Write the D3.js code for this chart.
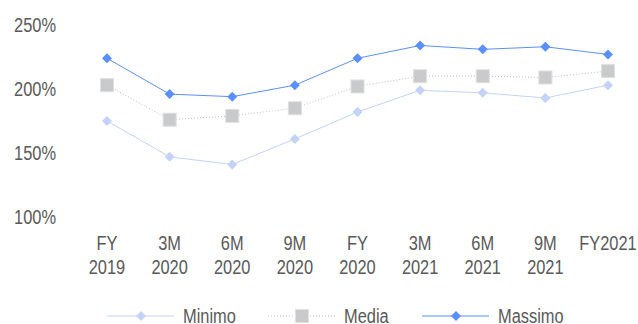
<!DOCTYPE html>
<html>
<head>
<meta charset="utf-8">
<script src="https://cdn.jsdelivr.net/npm/d3@7"></script>
<style>
  body { margin: 0; background: #fff; }
  text { font-family: "Liberation Sans Narrow", "Arial Narrow", "Liberation Sans", Arial, sans-serif; fill: #595959; }
</style>
</head>
<body>
<div id="chart"></div>
<script>
// periodi (due righe di etichetta)
const periodi = ["FY 2019", "3M 2020", "6M 2020", "9M 2020", "FY 2020", "3M 2021", "6M 2021", "9M 2021", "FY2021"];
const minimo  = [175, 147, 141, 161, 182, 199, 197, 193, 203];
const media   = [203, 176, 179, 185, 202, 210, 210, 209, 214];
const massimo = [224, 196, 194, 203, 224, 234, 231, 233, 227];
const yTicks  = [100, 150, 200, 250];

const width = 638, height = 324;

const svg = d3.select("#chart").append("svg")
  .attr("width", width)
  .attr("height", height);

const x = d3.scalePoint()
  .domain(periodi)
  .range([107, 608]);

const y = d3.scaleLinear()
  .domain([100, 250])
  .range([217, 25]);

// stringe il testo come un Arial Narrow
function narrow(sel) {
  sel.each(function() {
    const w = this.getComputedTextLength();
    d3.select(this)
      .attr("textLength", w * 0.82)
      .attr("lengthAdjust", "spacingAndGlyphs");
  });
}

// etichette asse Y
svg.append("g")
  .selectAll("text")
  .data(yTicks)
  .enter().append("text")
    .attr("x", 56)
    .attr("y", d => y(d))
    .attr("dy", "0.35em")
    .attr("text-anchor", "end")
    .style("font-size", "20px")
    .text(d => d + "%")
    .call(narrow);

// etichette asse X
svg.append("g")
  .selectAll("g")
  .data(periodi)
  .enter().append("g")
  .each(function(d) {
    const g = d3.select(this);
    d.split(" ").forEach((p, i) => {
      g.append("text")
        .attr("x", x(d))
        .attr("y", 243 + i * 24)
        .attr("dy", "0.35em")
        .attr("text-anchor", "middle")
        .style("font-size", "20px")
        .text(p)
        .call(narrow);
    });
  });

const series = [
  { name: "Minimo",  values: minimo,  color: "#c3d3f6", dash: null,  shape: "diamond", size: 10, mcolor: "#c3d3f6" },
  { name: "Media",   values: media,   color: "#bfbfbf", dash: "1,2", shape: "square",  size: 13, mcolor: "#c8cacb" },
  { name: "Massimo", values: massimo, color: "#5b8ff9", dash: null,  shape: "diamond", size: 10, mcolor: "#5b8ff9" }
];

const line = d3.line()
  .x((d, i) => x(periodi[i]))
  .y(d => y(d));

function marker(g, s, cx, cy) {
  const h = s.size / 2;
  if (s.shape === "square") {
    g.append("rect")
      .attr("x", cx - h).attr("y", cy - h)
      .attr("width", s.size).attr("height", s.size)
      .attr("fill", s.mcolor)
      .attr("stroke", "#dfe0e0")
      .attr("stroke-width", 1);
  } else {
    g.append("path")
      .attr("d", `M${cx},${cy - h}L${cx + h},${cy}L${cx},${cy + h}L${cx - h},${cy}Z`)
      .attr("fill", s.mcolor);
  }
}

series.forEach(s => {
  const g = svg.append("g");
  g.append("path")
    .datum(s.values)
    .attr("fill", "none")
    .attr("stroke", s.color)
    .attr("stroke-width", 1)
    .attr("stroke-dasharray", s.dash)
    .attr("d", line);
  s.values.forEach((v, i) => marker(g, s, x(periodi[i]), y(v)));
});

// legenda
const legX = [107, 268, 422];
const legY = 316;
series.forEach((s, i) => {
  const g = svg.append("g");
  g.append("line")
    .attr("x1", legX[i]).attr("x2", legX[i] + 67)
    .attr("y1", legY).attr("y2", legY)
    .attr("stroke", s.color)
    .attr("stroke-width", 1)
    .attr("stroke-dasharray", s.dash);
  marker(g, s, legX[i] + 34, legY);
  g.append("text")
    .attr("x", legX[i] + 76)
    .attr("y", legY)
    .attr("dy", "0.35em")
    .style("font-size", "20px")
    .text(s.name)
    .call(narrow);
});
</script>
</body>
</html>
